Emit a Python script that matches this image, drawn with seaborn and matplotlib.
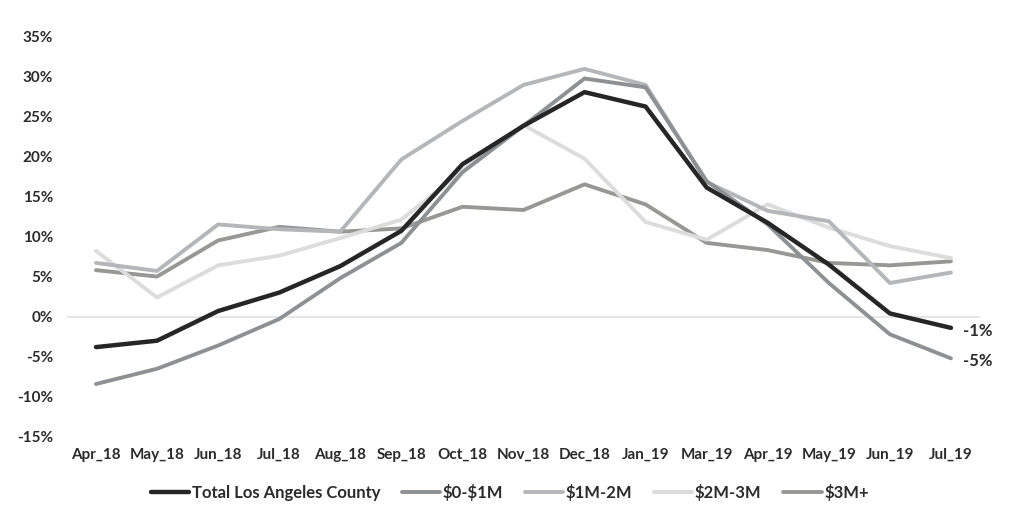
import matplotlib
matplotlib.use("Agg")
import matplotlib.pyplot as plt
import pandas as pd
import seaborn as sns

months = ["Apr_18", "May_18", "Jun_18", "Jul_18", "Aug_18", "Sep_18", "Oct_18", "Nov_18",
          "Dec_18", "Jan_19", "Mar_19", "Apr_19", "May_19", "Jun_19", "Jul_19"]

total_la = [-3.8, -3.0, 0.7, 3.0, 6.3, 10.7, 19.0, 23.8, 28.0, 26.2, 16.1, 11.7, 6.5, 0.4, -1.4]
tier_0_1m = [-8.4, -6.5, -3.6, -0.3, 4.8, 9.2, 18.0, 23.8, 29.7, 28.6, 16.9, 11.5, 4.2, -2.2, -5.2]
tier_1_2m = [6.7, 5.7, 11.5, 10.9, 10.6, 19.6, 24.4, 28.9, 30.9, 28.9, 16.8, 13.2, 11.9, 4.2, 5.5]
tier_2_3m = [8.2, 2.4, 6.4, 7.6, 9.8, 12.1, 18.2, 23.9, 19.7, 11.8, 9.6, 14.0, 11.1, 8.8, 7.3]
tier_3m_plus = [5.8, 5.0, 9.5, 11.2, 10.6, 11.0, 13.7, 13.3, 16.5, 14.0, 9.2, 8.3, 6.7, 6.4, 6.9]

series_names = ["Total Los Angeles County", "$0-$1M", "$1M-2M", "$2M-3M", "$3M+"]
series_values = [total_la, tier_0_1m, tier_1_2m, tier_2_3m, tier_3m_plus]
series_colors = ["#262626", "#8e9194", "#b5b6b9", "#dcdcdc", "#979894"]
end_labels = {"Total Los Angeles County": "-1%", "$0-$1M": "-5%"}

rows = []
for name, vals in zip(series_names, series_values):
    for i, v in enumerate(vals):
        rows.append({"idx": i, "value": v, "series": name})
df = pd.DataFrame(rows)

sns.set_style("white")
plt.rcParams["font.family"] = ["Lato", "DejaVu Sans"]
plt.rcParams["font.weight"] = "bold"
text_color = "#2b2b2b"

fig = plt.figure(figsize=(10.24, 5.22), dpi=100)
ax = fig.add_axes([0.0654, 0.163, 0.8916, 0.768])

ax.axhline(0, color="#e2e2e2", lw=1.2, zorder=0)

# draw lighter tiers first so the county line sits on top
draw_order = ["$3M+", "$2M-3M", "$1M-2M", "$0-$1M", "Total Los Angeles County"]
widths = {"Total Los Angeles County": 3.2}
handles = {}
for name in draw_order:
    color = series_colors[series_names.index(name)]
    sns.lineplot(data=df[df["series"] == name], x="idx", y="value", ax=ax,
                 color=color, lw=widths.get(name, 2.8),
                 solid_capstyle="round", legend=False)
    handles[name] = ax.lines[-1]

for name, txt in end_labels.items():
    vals = series_values[series_names.index(name)]
    ax.annotate(txt, xy=(len(vals) - 1, vals[-1]), xytext=(9, -2),
                textcoords="offset points", va="center", ha="left",
                fontsize=12, color=text_color, fontweight="bold")

ax.set_xlim(-0.475, len(months) - 1 + 0.475)
ax.set_ylim(-15, 35)
ax.set_xticks(range(len(months)))
ax.set_xticklabels(months)
ax.set_yticks(range(-15, 36, 5))
ax.set_yticklabels([f"{t}%" for t in range(-15, 36, 5)])
ax.tick_params(axis="both", length=0, labelsize=11, colors=text_color)
ax.tick_params(axis="y", pad=10)
ax.tick_params(axis="x", pad=8)
ax.set_xlabel("")
ax.set_ylabel("")
sns.despine(ax=ax, left=True, bottom=True)

legend_labels = [n.replace("$", r"\$") for n in series_names]
ax.legend([handles[n] for n in series_names], legend_labels,
          loc="upper center", bbox_to_anchor=(0.485, -0.08), ncol=5,
          frameon=False, fontsize=12, handlelength=2.3, handletextpad=0.15,
          columnspacing=1.3, labelcolor=text_color)

fig.savefig("out.png", dpi=100)
